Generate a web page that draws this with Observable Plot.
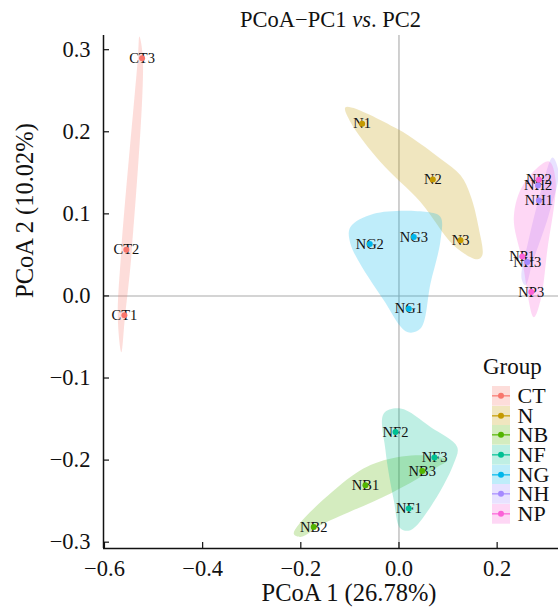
<!DOCTYPE html>
<html><head><meta charset="utf-8">
<script src="https://cdn.jsdelivr.net/npm/d3@7"></script>
<script src="https://cdn.jsdelivr.net/npm/@observablehq/plot@0.6"></script>
<style>
body{margin:0;background:#fff;}
#wrap{position:relative;width:558px;height:611px;font-family:"Liberation Serif","Times New Roman",serif;color:#111;}
#title{position:absolute;left:103px;width:455px;top:9px;text-align:center;font-size:22.5px;line-height:22px;white-space:nowrap;}
#legend{position:absolute;left:492px;top:355px;}
#legend .lt{font-size:23px;line-height:23px;height:31px;margin-left:-9px;}
#legend .row{display:flex;align-items:flex-start;height:19.7px;}
#legend .row svg{display:block;width:18px;height:19.7px;}
#legend .row span{font-size:22px;line-height:19.7px;margin-left:7.5px;white-space:nowrap;}
</style>
</head><body>
<div id="wrap"><div id="title">PCoA−PC1 <i>vs</i>. PC2</div><div id="legend"></div></div>
<script>
// ---- data ----
const groups = ["CT","N","NB","NF","NG","NH","NP"];
const groupColors = ["#F8766D","#C49A00","#53B400","#00C094","#00B6EB","#A58AFF","#FB61D7"];
const legendTitle = "Group";

const sampleNames  = ["CT1","CT2","CT3","N1","N2","N3","NB1","NB2","NB3","NF1","NF2","NF3","NG1","NG2","NG3","NH1","NH2","NH3","NP1","NP2","NP3"];
const sampleGroups = ["CT","CT","CT","N","N","N","NB","NB","NB","NF","NF","NF","NG","NG","NG","NH","NH","NH","NP","NP","NP"];
const pc1 = [-0.5595,-0.5554,-0.5234,-0.0750,0.0689,0.1254,-0.0683,-0.1737,0.0473,0.0200,-0.0071,0.0724,0.0200,-0.0595,0.0302,0.2850,0.2833,0.2613,0.2511,0.2850,0.2695];
const pc2 = [-0.0236,0.0564,0.2897,0.2098,0.1420,0.0677,-0.2306,-0.2814,-0.2132,-0.2590,-0.1657,-0.1969,-0.0155,0.0632,0.0717,0.1164,0.1347,0.0413,0.0482,0.1416,0.0047];

// encircling outlines
const hullGroup = [
 "CT","CT","CT","CT","CT","CT","CT","CT",
 "N","N","N","N","N","N","N","N","N","N","N","N",
 "NB","NB","NB","NB","NB","NB","NB","NB","NB",
 "NF","NF","NF","NF","NF","NF","NF","NF","NF","NF",
 "NG","NG","NG","NG","NG","NG","NG","NG","NG","NG",
 "NH","NH","NH","NH","NH","NH","NH","NH",
 "NP","NP","NP","NP","NP","NP","NP","NP","NP"];
const hullPC1 = [
 -0.5289,-0.5218,-0.5443,-0.5585,-0.5656,-0.5728,-0.5656,-0.5320,
 -0.1090,-0.0037,0.0846,0.1254,0.1457,0.1627,0.1696,0.1594,0.1117,0.0438,-0.0377,-0.0989,
 -0.2144,-0.0989,-0.0310,0.0506,0.0982,0.0779,-0.0173,-0.1533,-0.2008,
 -0.0310,0.0031,0.0642,0.1186,0.1117,0.0642,0.0234,0.0031,-0.0106,-0.0275,
 -0.0989,-0.0514,0.0575,0.0846,0.0846,0.0642,0.0438,0.0167,-0.0310,-0.0989,
 0.3129,0.3251,0.3048,0.2722,0.2579,0.2497,0.2640,0.2925,
 0.3053,0.3190,0.3021,0.2884,0.2748,0.2511,0.2340,0.2544,0.2817];
const hullPC2 = [
 0.3160,0.2893,0.0555,-0.0272,-0.0687,-0.0272,0.0555,0.2893,
 0.2300,0.2037,0.1672,0.1469,0.1225,0.0823,0.0494,0.0446,0.0616,0.1143,0.1631,0.2118,
 -0.2895,-0.2205,-0.2002,-0.1941,-0.2002,-0.2084,-0.2407,-0.2773,-0.2936,
 -0.1433,-0.1372,-0.1596,-0.1840,-0.2042,-0.2571,-0.2854,-0.2834,-0.2489,-0.1880,
 0.0839,0.1002,0.1022,0.0961,0.0677,0.0153,-0.0398,-0.0440,-0.0054,0.0637,
 0.1688,0.1505,0.0981,0.0409,0.0129,0.0214,0.0677,0.1347,
 0.1639,0.1408,0.0555,-0.0054,-0.0261,0.0434,0.0961,0.1368];

const xTicks = [-0.6,-0.4,-0.2,0.0,0.2];
const yTicks = [-0.3,-0.2,-0.1,0.0,0.1,0.2,0.3];
const xDomain = [-0.602, 0.325];
const yDomain = [-0.3077, 0.3173];
const xTitle = "PCoA 1 (26.78%)";
const yTitle = "PCoA 2 (10.02%)";

// ---- build ----
const colorOf = Object.fromEntries(groups.map((g,i)=>[g,groupColors[i]]));
const samples = sampleNames.map((n,i)=>({name:n, group:sampleGroups[i], x:pc1[i], y:pc2[i]}));
const hulls = hullGroup.map((g,i)=>({group:g, x:hullPC1[i], y:hullPC2[i]}));

const W = 558, H = 611, mT = 35, mB = 63, mL = 103, mR = 0;
const innerW = W - mL - mR, innerH = H - mT - mB;
const fmt = d3.format(".1f");

const plot = Plot.plot({
  width: W, height: H,
  marginTop: mT, marginBottom: mB, marginLeft: mL, marginRight: mR,
  style: {fontFamily: '"Liberation Serif", "Times New Roman", serif', fontSize: "22.5px", color: "#111", background: "transparent", overflow: "visible"},
  x: {domain: xDomain},
  y: {domain: yDomain},
  color: {type: "identity"},
  marks: [
    Plot.ruleX([0], {stroke: "#a9a9a9", strokeWidth: 1.1}),
    Plot.ruleY([0], {stroke: "#a9a9a9", strokeWidth: 1.1}),
    ...groups.map(g => Plot.line(hulls.filter(d => d.group === g), {
      x: "x", y: "y", curve: "catmull-rom-closed",
      fill: colorOf[g], fillOpacity: 0.25, stroke: "none"
    })),
    Plot.text(samples, {x: "x", y: "y", text: "name", fontSize: 14.5, fill: "#111"}),
    Plot.dot(samples, {x: "x", y: "y", r: 3, fill: d => colorOf[d.group], stroke: null}),
    Plot.axisX({ticks: xTicks, tickSize: 0, tickPadding: 12, tickFormat: fmt, label: null, fontSize: 22.5}),
    Plot.axisY({ticks: yTicks, tickSize: 0, tickPadding: 13, tickFormat: fmt, label: null, fontSize: 22.5}),
    Plot.ruleX(xTicks, {insetTop: innerH - 6, stroke: "#111", strokeWidth: 1.2}),
    Plot.ruleY(yTicks, {insetRight: innerW - 6, stroke: "#111", strokeWidth: 1.2}),
    Plot.ruleX([xDomain[0]], {stroke: "#111", strokeWidth: 1.5}),
    Plot.ruleY([yDomain[0]], {stroke: "#111", strokeWidth: 1.5}),
    Plot.text([xTitle], {frameAnchor: "bottom", text: d => d, dx: 18, dy: 52, fontSize: 24.5, fill: "#111"}),
    Plot.text([yTitle], {frameAnchor: "left", text: d => d, dx: -78, dy: 6, rotate: -90, fontSize: 24.5, fill: "#111"})
  ]
});
const wrap = document.getElementById("wrap");
wrap.insertBefore(plot, wrap.firstChild);
plot.style.position = "absolute"; plot.style.left = "0"; plot.style.top = "0";

// legend
const leg = document.getElementById("legend");
const lt = document.createElement("div"); lt.className = "lt"; lt.textContent = legendTitle; leg.appendChild(lt);
groups.forEach((g,i) => {
  const row = document.createElement("div"); row.className = "row";
  const c = groupColors[i];
  row.innerHTML = `<svg viewBox="0 0 18 19.7"><rect x="0" y="0" width="18" height="19.7" fill="${c}" fill-opacity="0.25"/><line x1="0" x2="18" y1="9.85" y2="9.85" stroke="${c}" stroke-width="1.2"/><circle cx="9" cy="9.85" r="3" fill="${c}"/></svg><span>${g}</span>`;
  leg.appendChild(row);
});
</script>
</body></html>
